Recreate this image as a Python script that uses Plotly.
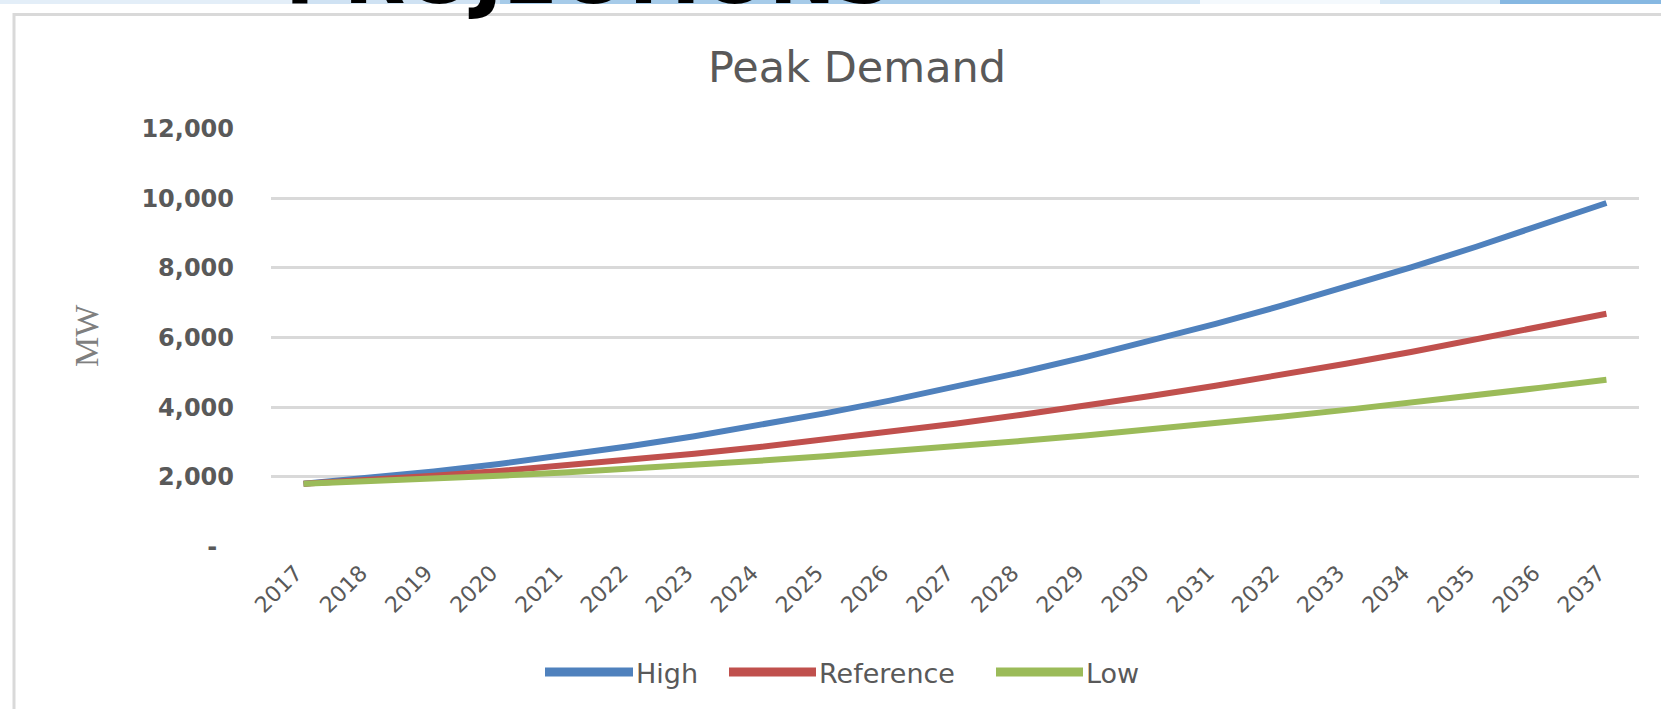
import plotly.graph_objects as go

years = [str(y) for y in range(2017, 2038)]
high = [1800, 1965, 2156, 2371, 2612, 2877, 3168, 3483, 3824, 4190, 4580,
        4996, 5436, 5902, 6392, 6907, 7448, 8013, 8604, 9219, 9860]
reference = [1800, 1908, 2031, 2168, 2319, 2485, 2664, 2858, 3067, 3289, 3526,
             3777, 4042, 4322, 4616, 4924, 5247, 5584, 5935, 6300, 6680]
low = [1800, 1870, 1947, 2034, 2129, 2232, 2343, 2463, 2592, 2729, 2874,
       3028, 3190, 3360, 3539, 3727, 3923, 4127, 4339, 4561, 4790]
series_names = ["High", "Reference", "Low"]
y_ticks = [0, 2000, 4000, 6000, 8000, 10000, 12000]
y_ticktext = ["-\u2007", "2,000", "4,000", "6,000", "8,000", "10,000", "12,000"]

colors = ["#4f81bd", "#c0504d", "#9bbb59"]

W, H = 1661, 709
L, R, T, B = 271, 22, 128, 162


def px_x(px):
    return (px - L) / (W - L - R)


def px_y(py):
    return (H - B - py) / (H - T - B)


fig = go.Figure()
for name, vals, col in zip(series_names, [high, reference, low], colors):
    fig.add_trace(go.Scatter(x=years, y=vals, name=name, mode="lines",
                             line=dict(color=col, width=6), showlegend=False))

shapes = []
# slide strip above the chart frame
strip = [(0, 300, "#e3eef8"), (300, 500, "#cfe2f3"), (500, 1100, "#a6cbe9"),
         (1100, 1200, "#d3e6f5"), (1200, 1380, "#f4f9fd"), (1380, 1500, "#d5e7f5"),
         (1500, 1661, "#86b8e2")]
for x0, x1, c in strip:
    shapes.append(dict(type="rect", xref="paper", yref="paper",
                       x0=px_x(x0), x1=px_x(x1), y0=px_y(4), y1=px_y(-4),
                       fillcolor=c, line=dict(width=0), layer="below"))
# chart frame
shapes.append(dict(type="rect", xref="paper", yref="paper",
                   x0=px_x(14), x1=px_x(1720), y0=px_y(760), y1=px_y(14.5),
                   line=dict(color="#d9d9d9", width=3), fillcolor="rgba(0,0,0,0)"))

annotations = [
    dict(text="PROJECTIONS", xref="paper", yref="paper", x=px_x(283), y=px_y(24),
         xanchor="left", yanchor="bottom", showarrow=False,
         font=dict(family="DejaVu Sans", size=80, color="#000000", weight="bold")),
    dict(text="MW", xref="paper", yref="paper", x=px_x(86), y=px_y(335),
         xanchor="center", yanchor="middle", showarrow=False, textangle=-90,
         font=dict(family="Liberation Serif", size=34, color="#7f7f7f")),
]

# legend drawn by hand so the line samples match the original length
legend_lines = [(545, 633), (729, 816), (996, 1083)]
for name, col, (x0, x1) in zip(series_names, colors, legend_lines):
    shapes.append(dict(type="line", xref="paper", yref="paper",
                       x0=px_x(x0), x1=px_x(x1), y0=px_y(672), y1=px_y(672),
                       line=dict(color=col, width=9)))
    annotations.append(dict(text=name, xref="paper", yref="paper",
                            x=px_x(x1 + 1), y=px_y(673), xanchor="left", yanchor="middle",
                            showarrow=False,
                            font=dict(family="DejaVu Sans", size=27, color="#595959")))

fig.update_layout(
    width=W, height=H,
    margin=dict(l=L, r=R, t=T, b=B),
    paper_bgcolor="white", plot_bgcolor="white",
    title=dict(text="Peak Demand", x=857 / W, xanchor="center",
               y=1 - 67 / H, yanchor="middle",
               font=dict(family="DejaVu Sans", size=43, color="#595959")),
    shapes=shapes, annotations=annotations,
    xaxis=dict(type="category", range=[-0.5, 20.5], tickangle=-45, showgrid=False,
               showline=False, zeroline=False, ticks="", ticklabelstandoff=0,
               tickvals=years, ticktext=[y + "\u2002" for y in years],
               tickfont=dict(family="DejaVu Sans", size=22, color="#595959")),
    yaxis=dict(range=[-12, 12012], tickvals=y_ticks, ticktext=y_ticktext,
               showgrid=True, gridcolor="#d9d9d9", gridwidth=2.5, zeroline=False,
               showline=False, ticks="", ticklabelstandoff=36,
               tickfont=dict(family="DejaVu Sans", size=24, color="#595959", weight="bold")),
)

# drop the default 8px page margin so the figure sits at the window corner
fig.write_html("out.html", config={"displayModeBar": False},
               post_script="document.body.style.margin = '0';")
